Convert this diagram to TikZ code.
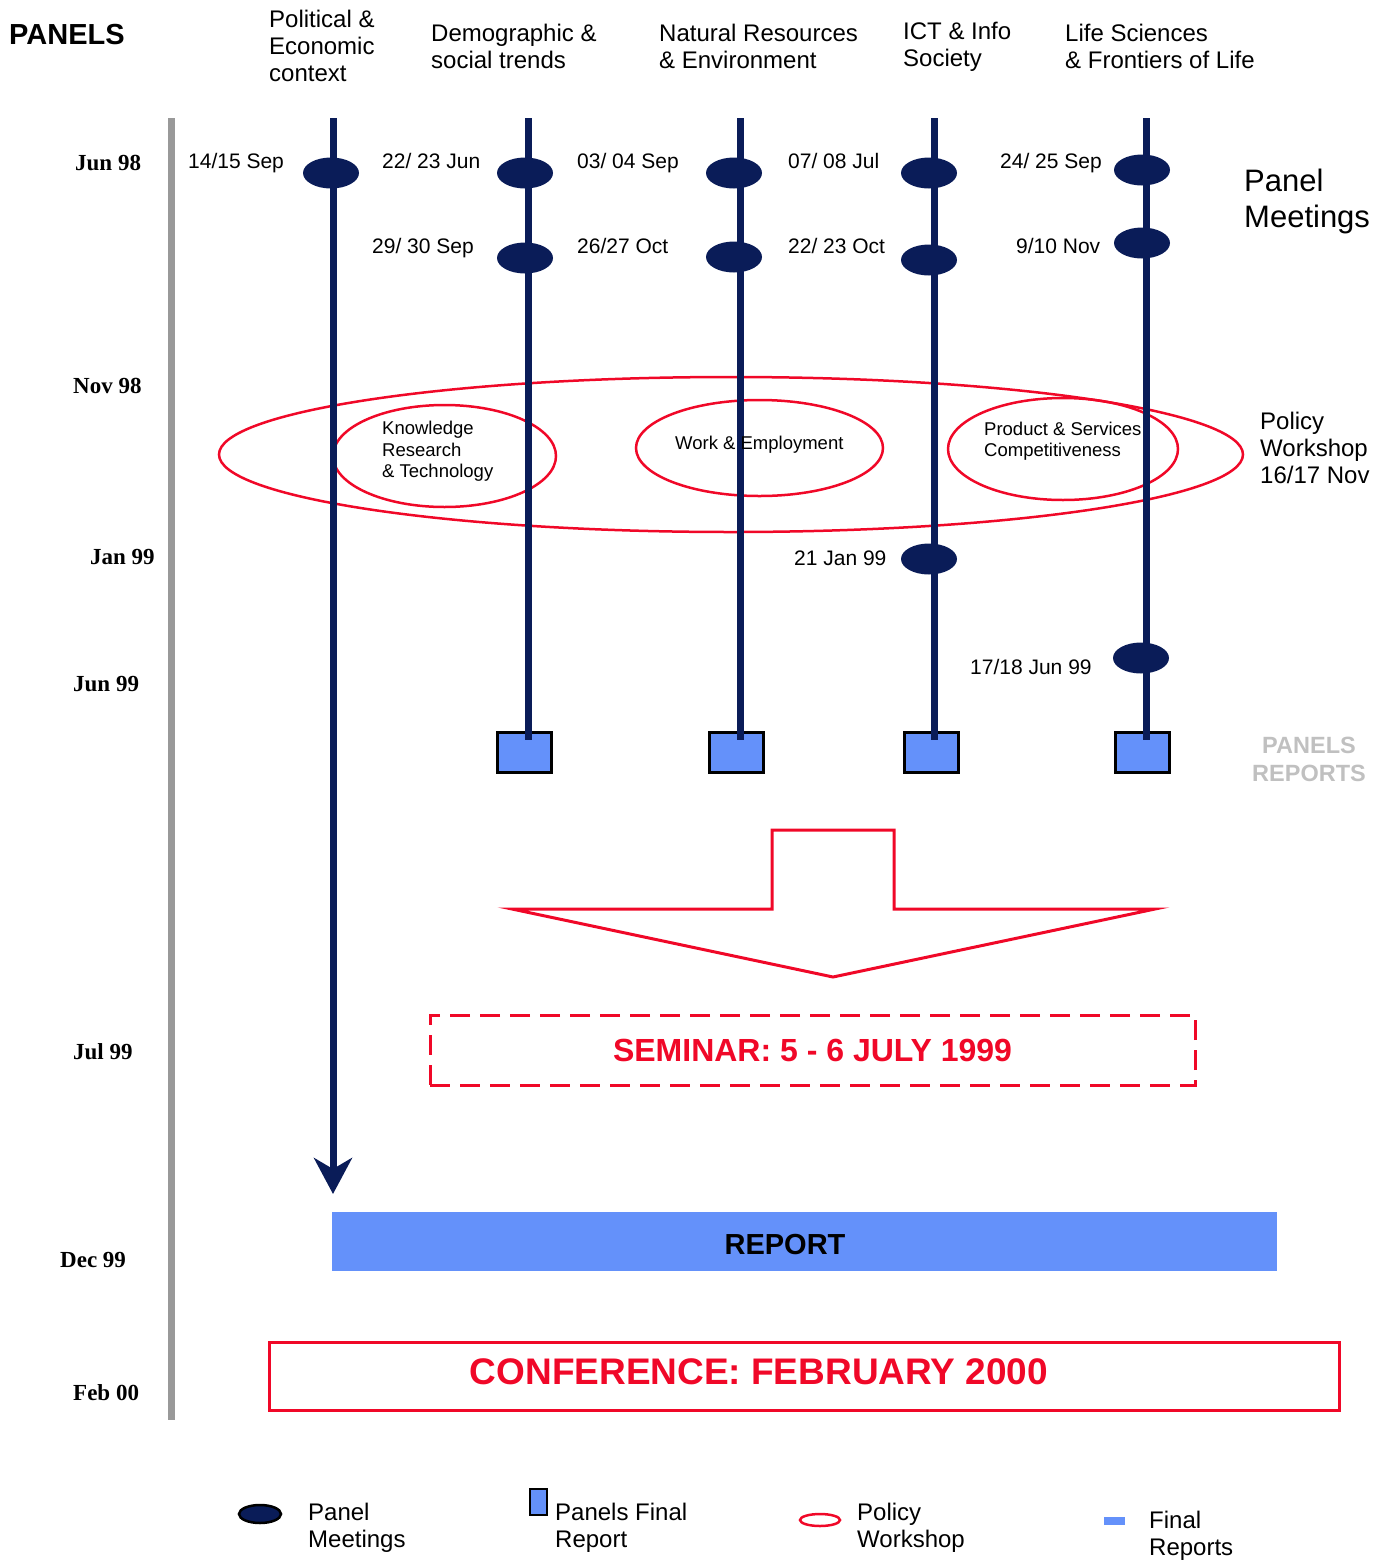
\documentclass[tikz,border=0pt]{standalone}
\usepackage{fontspec}
\setmainfont{Liberation Sans}
\newfontfamily\fechafont{Liberation Serif}
\usepackage{tikz}
\usetikzlibrary{shapes.geometric, arrows.meta}
\definecolor{azulpanel}{RGB}{10,28,88}
\definecolor{rojotaller}{RGB}{240,8,40}
\definecolor{azulinforme}{RGB}{100,145,250}
\definecolor{grisinforme}{RGB}{192,192,192}
\tikzstyle{linea} = [line width=7pt,azulpanel]
\tikzstyle{reunion} = [ellipse,fill=azulpanel,minimum width=56pt,minimum height=31pt,inner sep=0pt]
\tikzstyle{taller} = [ellipse,draw=rojotaller,line width=2.5pt,inner sep=0pt]
\tikzstyle{informepanel} = [rectangle,draw=black,line width=3pt,fill=azulinforme,minimum width=54pt,minimum height=40pt,inner sep=0pt]
\tikzstyle{fecha} = [anchor=west,inner sep=0pt,font=\fontsize{21}{25}\selectfont]
\tikzstyle{mes} = [anchor=west,inner sep=0pt,font=\fechafont\bfseries\fontsize{23}{27}\selectfont]
\tikzstyle{titulo} = [anchor=west,inner sep=0pt,align=left,font=\fontsize{24}{27}\selectfont]
\tikzstyle{dentro} = [anchor=west,inner sep=0pt,align=left,font=\fontsize{18.5}{21.5}\selectfont]

\begin{document}
\begin{tikzpicture}[x=1pt,y=-1pt]
	\useasboundingbox (0,0) rectangle (1390,1561);
	\node[anchor=west,inner sep=0pt,font=\bfseries\fontsize{29}{33}\selectfont] (panels) at (9,35) {PANELS};
	\foreach \Xc/\Yc/\Nombre/\Texto in 
	{269/46/pol/{Political \&\\Economic\\context}, 431/46.5/dem/{Demographic \&\\social trends},
	 659/46.5/nat/{Natural Resources\\\& Environment}, 903/46.5/ict/{ICT \& Info\\Society},
	 1065/46.5/life/{Life Sciences\\\& Frontiers of Life}}
	{
		\node[titulo] (\Nombre) at (\Xc,\Yc) {\Texto};
	}
	% eje de meses
	\draw[line width=7pt,gray!80] (171,118) coordinate (ejeA) -- (171,1420) coordinate (ejeB);
	\foreach \Xc/\Yc/\Nombre/\Texto in 
	{75/163/jun98/Jun 98, 73/386/nov98/Nov 98, 90/557/jan99/Jan 99, 73/684/jun99/Jun 99,
	 73/1052/jul99/Jul 99, 60/1260/dec99/Dec 99, 73/1393/feb00/Feb 00}
	{
		\node[mes] (\Nombre) at (\Xc,\Yc) {\Texto};
	}
	% taller de politicas
	\node[taller,minimum width=1024pt,minimum height=155pt] (policy) at (731,454.5) {};
	\node[taller,minimum width=223pt,minimum height=102pt] (know) at (444.5,456) {};
	\node[taller,minimum width=247pt,minimum height=96pt] (work) at (759.5,448) {};
	\node[taller,minimum width=230pt,minimum height=102pt] (prod) at (1063,449) {};
	% informes de los paneles
	\foreach \Xc/\Nombre in {524.5/inf2, 736/inf3, 931/inf4, 1142.5/inf5}
	{
		\node[informepanel] (\Nombre) at (\Xc,752.5) {};
	}
	\foreach \Xc/\Nombre in {528/2, 740/3, 934/4, 1146/5}
	{
		\coordinate (top\Nombre) at (\Xc,118);
		\coordinate (fin\Nombre) at (\Xc,740);
		\draw[linea] (top\Nombre) -- (fin\Nombre);
	}
	\coordinate (top1) at (333,118);
	\coordinate (fin1) at (333,1194);
	\draw[linea,-{Stealth[length=36pt,width=38pt,inset=11pt]}] (top1) -- (fin1);
	% reuniones
	\foreach \Xc/\Yc/\Nombre in 
	{331/173/m1a, 525/173/m2a, 525/258/m2b, 734/173/m3a, 734/257/m3b, 929/173/m4a,
	 929/260/m4b, 929/559/m4c, 1142/170/m5a, 1142/243/m5b, 1141/658/m5c}
	{
		\node[reunion] (\Nombre) at (\Xc,\Yc) {};
	}
	\foreach \Xc/\Yc/\Nombre/\Texto in 
	{188/163.5/f1a/{14/15 Sep}, 382/163.5/f2a/{22/ 23 Jun}, 372/248.5/f2b/{29/ 30 Sep},
	 577/163.5/f3a/{03/ 04 Sep}, 577/248.5/f3b/{26/27 Oct}, 788/163.5/f4a/{07/ 08 Jul},
	 788/248.5/f4b/{22/ 23 Oct}, 794/560.5/f4c/{21 Jan 99}, 1000/163.5/f5a/{24/ 25 Sep},
	 1016/248.5/f5b/{9/10 Nov}, 970/669.5/f5c/{17/18 Jun 99}}
	{
		\node[fecha] (\Nombre) at (\Xc,\Yc) {\strut\Texto};
	}
	\node[anchor=west,inner sep=0pt,align=left,font=\fontsize{31}{36}\selectfont] (meetings) at (1244,201) {Panel\\Meetings};
	\node[titulo] (workshop) at (1260,447.5) {Policy\\Workshop\\16/17 Nov};
	\node[dentro] (knowtxt) at (382,451.5) {Knowledge\\Research\\\& Technology};
	\node[dentro] (worktxt) at (675,445) {Work \& Employment};
	\node[dentro] (prodtxt) at (984,441) {Product \& Services\\Competitiveness};
	\node[align=center,inner sep=0pt,text=grisinforme,font=\bfseries\fontsize{23.5}{28}\selectfont] (reports) at (1309,759) {PANELS\\REPORTS};
	% flecha hacia el seminario
	\draw[rojotaller,line width=3pt] (772,830) -- (894,830) -- (894,909) -- (1155,909) -- (833,977) -- (512,909) -- (772,909) -- cycle;
	\node[draw=rojotaller,line width=3pt,dash pattern=on 20pt off 10pt,minimum width=765pt,minimum height=70pt,inner sep=0pt,text=rojotaller,font=\bfseries\fontsize{32}{36}\selectfont] (seminar) at (812.5,1050) {SEMINAR: 5 - 6 JULY 1999};
	\node[fill=azulinforme,minimum width=945pt,minimum height=59pt,inner sep=0pt] (report) at (804.5,1241.5) {};
	\node[inner sep=0pt,font=\bfseries\fontsize{29}{33}\selectfont] (reporttxt) at (785,1245) {REPORT};
	\node[draw=rojotaller,line width=3pt,minimum width=1070pt,minimum height=68pt,inner sep=0pt] (conf) at (804.5,1376.5) {};
	\node[inner sep=0pt,text=rojotaller,font=\bfseries\fontsize{37}{41}\selectfont] (conftxt) at (759,1372) {CONFERENCE: FEBRUARY 2000};
	% leyenda
	\node[reunion,draw=black,line width=2.5pt,minimum width=42pt,minimum height=18pt] (leyreunion) at (260,1514) {};
	\node[informepanel,line width=2.5pt,minimum width=17pt,minimum height=26pt] (leyinforme) at (538.5,1502) {};
	\node[taller,minimum width=40pt,minimum height=12pt] (leytaller) at (820,1520) {};
	\node[fill=azulinforme,minimum width=21pt,minimum height=8pt,inner sep=0pt] (leyfinal) at (1114.5,1521) {};
	\foreach \Xc/\Yc/\Nombre/\Texto in 
	{308/1527.5/leyA/{Panel\\Meetings}, 555/1527.5/leyB/{Panels Final\\Report},
	 857/1527.5/leyC/{Policy\\Workshop}, 1149/1535.5/leyD/{Final\\Reports}}
	{
		\node[titulo] (\Nombre) at (\Xc,\Yc) {\Texto};
	}
\end{tikzpicture}
\end{document}
